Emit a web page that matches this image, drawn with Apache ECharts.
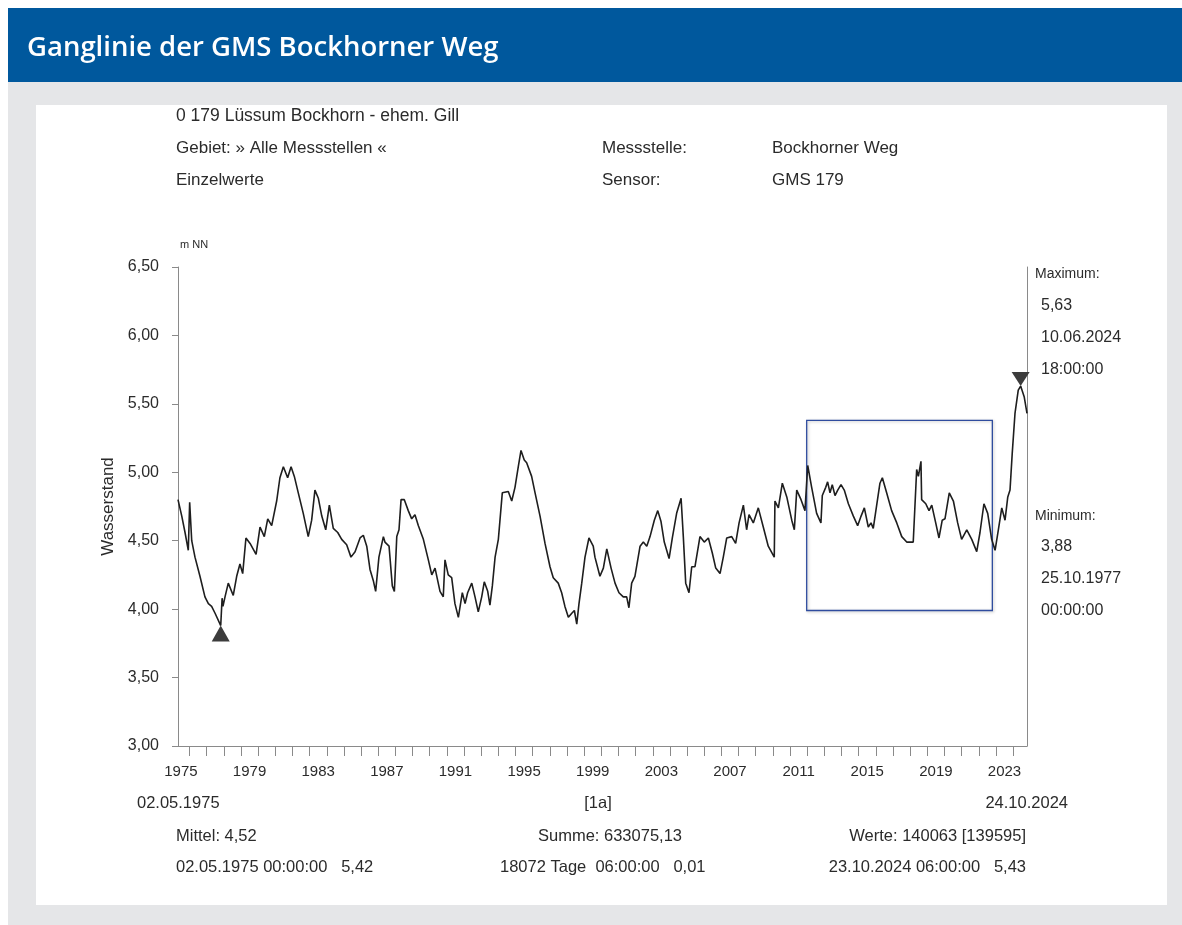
<!DOCTYPE html>
<html>
<head>
<meta charset="utf-8">
<title>Ganglinie der GMS Bockhorner Weg</title>
<script src="https://cdn.jsdelivr.net/npm/echarts@6/dist/echarts.min.js"></script>
<style>
  html, body { margin: 0; padding: 0; background: #fff; }
  #chart { width: 1182px; height: 925px; }
</style>
</head>
<body>
<div id="chart"></div>
<script>
// time as decimal year
const t = [
  1975.33, 1975.55, 1975.74, 1975.93, 1976.01, 1976.13, 1976.32, 1976.61, 1976.90, 1977.10,
  1977.29, 1977.49, 1977.82, 1977.90, 1977.95, 1978.07, 1978.26, 1978.55, 1978.75, 1978.94,
  1979.10, 1979.29, 1979.53, 1979.88, 1980.11, 1980.36, 1980.56, 1980.79, 1981.08, 1981.27,
  1981.47, 1981.72, 1981.92, 1982.11, 1982.34, 1982.63, 1982.92, 1983.12, 1983.31, 1983.51,
  1983.71, 1983.94, 1984.15, 1984.38, 1984.64, 1984.87, 1985.16, 1985.41, 1985.65, 1985.94,
  1986.13, 1986.33, 1986.52, 1986.71, 1986.85, 1987.04, 1987.30, 1987.39, 1987.63, 1987.82,
  1987.94, 1988.08, 1988.21, 1988.33, 1988.52, 1988.75, 1988.95, 1989.14, 1989.34, 1989.63,
  1989.92, 1990.12, 1990.31, 1990.60, 1990.79, 1990.89, 1991.08, 1991.28, 1991.47, 1991.67,
  1991.90, 1992.06, 1992.21, 1992.45, 1992.64, 1992.83, 1993.03, 1993.18, 1993.38, 1993.51,
  1993.65, 1993.81, 1994.00, 1994.23, 1994.58, 1994.78, 1994.97, 1995.16, 1995.32, 1995.51,
  1995.65, 1995.94, 1996.14, 1996.43, 1996.72, 1997.01, 1997.20, 1997.49, 1997.69, 1997.88,
  1998.08, 1998.28, 1998.43, 1998.57, 1998.70, 1998.86, 1999.05, 1999.28, 1999.53, 1999.63,
  1999.92, 2000.12, 2000.32, 2000.57, 2000.80, 2001.03, 2001.28, 2001.48, 2001.61, 2001.77,
  2001.96, 2002.26, 2002.45, 2002.65, 2002.84, 2003.09, 2003.29, 2003.48, 2003.67, 2003.95,
  2004.14, 2004.39, 2004.65, 2004.78, 2004.92, 2005.11, 2005.27, 2005.46, 2005.75, 2006.00,
  2006.24, 2006.47, 2006.67, 2006.92, 2007.11, 2007.31, 2007.60, 2007.83, 2008.03, 2008.28,
  2008.47, 2008.61, 2008.86, 2009.15, 2009.44, 2009.73, 2010.08, 2010.12, 2010.32, 2010.55,
  2010.81, 2011.10, 2011.25, 2011.39, 2011.64, 2011.87, 2012.03, 2012.26, 2012.55, 2012.80,
  2012.88, 2013.08, 2013.19, 2013.33, 2013.46, 2013.62, 2013.78, 2013.97, 2014.16, 2014.40,
  2014.69, 2014.94, 2015.14, 2015.33, 2015.56, 2015.72, 2015.85, 2016.05, 2016.24, 2016.38,
  2016.63, 2016.92, 2017.22, 2017.51, 2017.80, 2018.18, 2018.38, 2018.48, 2018.63, 2018.67,
  2018.91, 2019.10, 2019.26, 2019.49, 2019.68, 2019.87, 2020.03, 2020.28, 2020.52, 2020.77,
  2021.00, 2021.30, 2021.59, 2021.88, 2022.07, 2022.30, 2022.52, 2022.75, 2022.95, 2023.14,
  2023.34, 2023.53, 2023.69, 2023.82, 2023.95, 2024.11, 2024.30, 2024.44, 2024.65, 2024.81
];
// Wasserstand in m NN
const level = [
  4.80, 4.68, 4.56, 4.43, 4.78, 4.50, 4.38, 4.24, 4.09, 4.04,
  4.02, 3.97, 3.88, 4.08, 4.02, 4.09, 4.19, 4.10, 4.24, 4.33,
  4.26, 4.52, 4.48, 4.40, 4.60, 4.53, 4.66, 4.61, 4.79, 4.96,
  5.04, 4.96, 5.04, 4.97, 4.85, 4.70, 4.53, 4.65, 4.87, 4.81,
  4.68, 4.58, 4.76, 4.59, 4.56, 4.51, 4.47, 4.38, 4.42, 4.52,
  4.54, 4.46, 4.29, 4.21, 4.13, 4.38, 4.53, 4.49, 4.46, 4.17,
  4.13, 4.53, 4.58, 4.80, 4.80, 4.72, 4.66, 4.69, 4.61, 4.51,
  4.36, 4.25, 4.30, 4.13, 4.09, 4.36, 4.25, 4.23, 4.04, 3.94,
  4.12, 4.04, 4.12, 4.19, 4.09, 3.98, 4.09, 4.20, 4.13, 4.03,
  4.17, 4.38, 4.51, 4.85, 4.86, 4.79, 4.89, 5.04, 5.16, 5.09,
  5.07, 4.97, 4.85, 4.68, 4.48, 4.31, 4.23, 4.19, 4.12, 4.02,
  3.94, 3.97, 3.99, 3.89, 4.04, 4.19, 4.38, 4.52, 4.46, 4.38,
  4.24, 4.30, 4.44, 4.30, 4.19, 4.12, 4.09, 4.09, 4.01, 4.19,
  4.24, 4.46, 4.49, 4.46, 4.53, 4.65, 4.72, 4.64, 4.49, 4.37,
  4.52, 4.70, 4.81, 4.53, 4.19, 4.12, 4.31, 4.31, 4.53, 4.49,
  4.52, 4.41, 4.30, 4.26, 4.38, 4.52, 4.53, 4.48, 4.63, 4.76,
  4.58, 4.69, 4.63, 4.74, 4.60, 4.46, 4.38, 4.79, 4.74, 4.92,
  4.82, 4.65, 4.58, 4.87, 4.80, 4.72, 5.05, 4.89, 4.70, 4.63,
  4.83, 4.89, 4.93, 4.85, 4.91, 4.83, 4.87, 4.91, 4.87, 4.77,
  4.68, 4.61, 4.68, 4.74, 4.60, 4.63, 4.59, 4.76, 4.92, 4.96,
  4.85, 4.72, 4.63, 4.53, 4.49, 4.49, 5.02, 4.97, 5.08, 4.80,
  4.77, 4.72, 4.76, 4.63, 4.52, 4.65, 4.66, 4.85, 4.79, 4.63,
  4.51, 4.58, 4.51, 4.42, 4.56, 4.77, 4.70, 4.51, 4.43, 4.58,
  4.74, 4.65, 4.82, 4.87, 5.14, 5.43, 5.60, 5.63, 5.55, 5.43
];

const axisStart = 1975.33;   // 02.05.1975
const axisEnd = 2024.81;     // 24.10.2024
const yearTicks = [];
for (let y = 1976; y <= 2024; y++) yearTicks.push(y);
const yearLabels = [1975, 1979, 1983, 1987, 1991, 1995, 1999, 2003, 2007, 2011, 2015, 2019, 2023];

const minPoint = [1977.82, 3.88];
const maxPoint = [2024.44, 5.63];
const highlightBox = [[2011.97, 5.38], [2022.79, 3.99]];

const FONT = '"Liberation Sans", Arial, sans-serif';
const TXT = '#2b2b2b';

function txt(x, y, text, align, size) {
  return {
    type: 'text', x: x, y: y, z: 5,
    style: {
      text: text, fill: TXT, align: align || 'left', verticalAlign: 'middle',
      font: (size || 16.5) + 'px ' + FONT
    }
  };
}

const chart = echarts.init(document.getElementById('chart'));

chart.setOption({
  backgroundColor: '#ffffff',
  animation: false,
  graphic: [
    { type: 'rect', z: -20, shape: { x: 8, y: 82, width: 1174, height: 843 }, style: { fill: '#e5e6e8' } },
    { type: 'rect', z: -19, shape: { x: 36, y: 105, width: 1131, height: 800 }, style: { fill: '#ffffff' } },
    { type: 'rect', z: -18, shape: { x: 8, y: 8, width: 1174, height: 74 }, style: { fill: '#00589d' } },
    {
      type: 'text', x: 27, y: 48, z: 5,
      style: { text: 'Ganglinie der GMS Bockhorner Weg', fill: '#ffffff', verticalAlign: 'middle',
        font: '600 27.5px "Open Sans", sans-serif' }
    },
    // header block
    txt(176, 116, '0 179 Lüssum Bockhorn - ehem. Gill', 'left', 17.5),
    txt(176, 148, 'Gebiet: » Alle Messstellen «', 'left', 17),
    txt(176, 180, 'Einzelwerte', 'left', 17),
    txt(602, 148, 'Messstelle:', 'left', 17),
    txt(602, 180, 'Sensor:', 'left', 17),
    txt(772, 148, 'Bockhorner Weg', 'left', 17),
    txt(772, 180, 'GMS 179', 'left', 17),
    txt(180, 245, 'm NN', 'left', 11),
    // extreme values
    txt(1035, 274, 'Maximum:', 'left', 14),
    txt(1041, 306, '5,63', 'left', 16),
    txt(1041, 338, '10.06.2024', 'left', 16),
    txt(1041, 370, '18:00:00', 'left', 16),
    txt(1035, 516, 'Minimum:', 'left', 14),
    txt(1041, 547, '3,88', 'left', 16),
    txt(1041, 579, '25.10.1977', 'left', 16),
    txt(1041, 611, '00:00:00', 'left', 16),
    // footer block
    txt(137, 803, '02.05.1975'),
    txt(598, 803, '[1a]', 'center'),
    txt(1068, 803, '24.10.2024', 'right'),
    txt(176, 836, 'Mittel: 4,52'),
    txt(610, 836, 'Summe: 633075,13', 'center'),
    txt(1026, 836, 'Werte: 140063 [139595]', 'right'),
    txt(176, 867, '02.05.1975 00:00:00   5,42'),
    txt(500, 867, '18072 Tage  06:00:00   0,01'),
    txt(1026, 867, '23.10.2024 06:00:00   5,43', 'right')
  ],
  grid: { left: 178, right: 155, top: 267, bottom: 179, containLabel: false },
  xAxis: {
    type: 'value',
    min: axisStart,
    max: axisEnd,
    axisLine: { lineStyle: { color: '#8a8a8a', width: 1 } },
    axisTick: { customValues: yearTicks, length: 10, lineStyle: { color: '#8a8a8a' } },
    axisLabel: {
      customValues: yearLabels.map(y => y + 0.5),
      formatter: v => String(Math.floor(v)),
      color: TXT, fontSize: 15, fontFamily: FONT, margin: 18
    },
    splitLine: { show: false }
  },
  yAxis: [{
    type: 'value',
    min: 3, max: 6.5, interval: 0.5,
    name: 'Wasserstand',
    nameLocation: 'middle',
    nameGap: 57,
    nameTextStyle: { color: TXT, fontSize: 17, fontFamily: FONT },
    axisLine: { show: true, lineStyle: { color: '#8a8a8a' } },
    axisTick: { show: true, length: 6, lineStyle: { color: '#8a8a8a' } },
    axisLabel: {
      formatter: v => v.toFixed(2).replace('.', ','),
      color: TXT, fontSize: 16, fontFamily: FONT, margin: 19
    },
    splitLine: { show: false }
  }, {
    type: 'value',
    position: 'right',
    min: 3, max: 6.5, interval: 0.5,
    axisLine: { show: true, lineStyle: { color: '#8a8a8a' } },
    axisTick: { show: false },
    axisLabel: { show: false },
    splitLine: { show: false }
  }],
  series: [{
    type: 'line',
    data: t.map((x, i) => [x, level[i]]),
    showSymbol: false,
    lineStyle: { color: '#1e1e1e', width: 1.6 },
    markPoint: {
      label: { show: false },
      itemStyle: { color: '#3c3c3c' },
      data: [
        { coord: minPoint, symbol: 'triangle', symbolSize: [18, 16], symbolOffset: [0, 8] },
        { coord: maxPoint, symbol: 'triangle', symbolSize: [18, 14], symbolRotate: 180, symbolOffset: [0, -7] }
      ]
    },
    markArea: {
      silent: true,
      itemStyle: { color: 'rgba(0,0,0,0)', borderColor: '#2f4c9e', borderWidth: 1.3,
        shadowColor: 'rgba(0,0,0,0.25)', shadowBlur: 3, shadowOffsetX: 1, shadowOffsetY: 1 },
      data: [[{ coord: highlightBox[0] }, { coord: highlightBox[1] }]]
    }
  }]
});
</script>
</body>
</html>
